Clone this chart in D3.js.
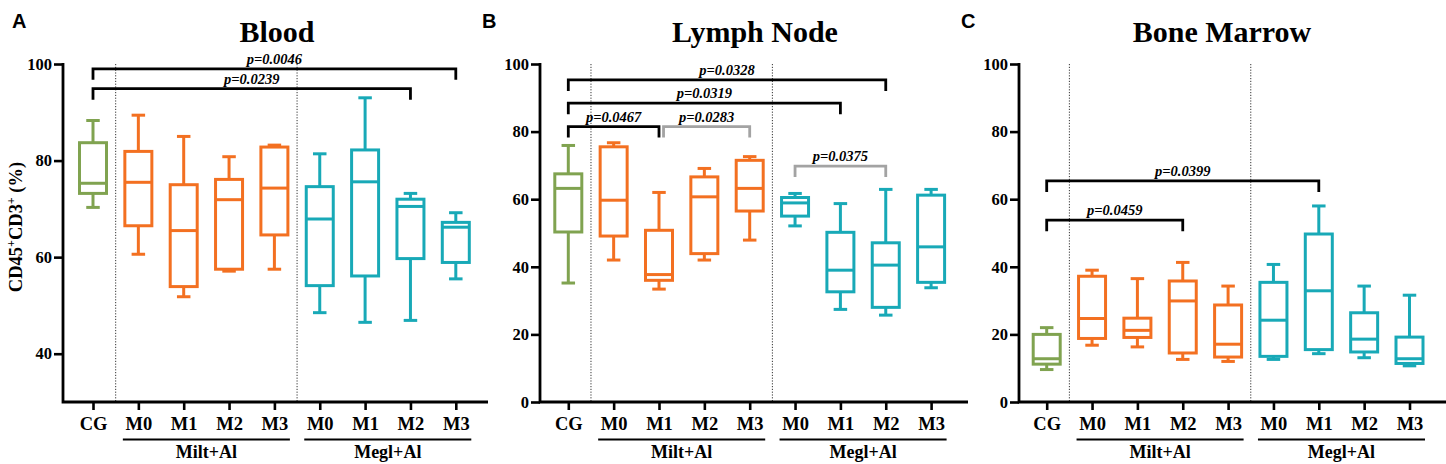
<!DOCTYPE html>
<html>
<head>
<meta charset="utf-8">
<script src="https://cdn.jsdelivr.net/npm/d3@7"></script>
<style>
  body { margin: 0; background: #fff; }
  svg text { font-family: "Liberation Serif", "Times New Roman", serif; font-weight: bold; }
</style>
</head>
<body>
<div class="canvas"></div>
<script>
// categories along every x axis
const categories = ["CG", "M0", "M1", "M2", "M3", "M0", "M1", "M2", "M3"];
const catGroup = ["cg", "milt", "milt", "milt", "milt", "megl", "megl", "megl", "megl"];
const groupLabels = [
  { name: "Milt+Al", from: 1, to: 4 },
  { name: "Megl+Al", from: 5, to: 8 }
];

// box stats per category: [min, q1, median, q3, max]
const bloodStats = [
  [70.3, 73.2, 75.3, 83.7, 88.3],
  [60.6, 66.5, 75.5, 81.9, 89.4],
  [51.8, 53.9, 65.5, 75.0, 85.0],
  [57.1, 57.5, 71.9, 76.1, 80.8],
  [57.5, 64.6, 74.3, 82.8, 83.2],
  [48.5, 54.1, 67.9, 74.6, 81.4],
  [46.5, 56.1, 75.6, 82.2, 93.0],
  [46.9, 59.7, 70.5, 72.0, 73.2],
  [55.5, 58.9, 66.2, 67.2, 69.2]
];
const lymphStats = [
  [35.2, 50.3, 63.2, 67.5, 75.9],
  [42.0, 49.1, 59.7, 75.5, 76.7],
  [33.4, 36.0, 37.7, 50.8, 62.0],
  [42.0, 43.9, 60.7, 66.6, 69.1],
  [47.9, 56.5, 63.2, 71.5, 72.6],
  [52.1, 55.0, 58.9, 60.5, 61.7],
  [27.4, 32.6, 39.0, 50.2, 58.7],
  [25.7, 28.0, 40.5, 47.1, 62.9],
  [33.8, 35.4, 45.9, 61.2, 62.9]
];
const marrowStats = [
  [9.6, 11.2, 12.8, 20.0, 22.0],
  [16.8, 18.8, 24.7, 37.2, 39.0],
  [16.3, 19.1, 21.2, 24.8, 36.5],
  [12.6, 14.5, 29.9, 35.8, 41.3],
  [12.0, 13.3, 17.1, 28.7, 34.3],
  [12.6, 13.5, 24.2, 35.4, 40.7],
  [14.3, 15.5, 32.9, 49.7, 58.0],
  [13.1, 14.8, 18.6, 26.4, 34.3],
  [10.7, 11.4, 12.8, 19.2, 31.6]
];

// significance brackets: [from index, to index, y value, label, grey?]
const bloodBrackets = [
  [0, 8, 99.0, "p=0.0046", false],
  [0, 7, 94.9, "p=0.0239", false]
];
const lymphBrackets = [
  [0, 7, 95.3, "p=0.0328", false],
  [0, 6, 88.4, "p=0.0319", false],
  [0, 2, 81.5, "p=0.0467", false],
  [2.1, 4, 81.5, "p=0.0283", true],
  [5, 7, 69.8, "p=0.0375", true]
];
const marrowBrackets = [
  [0, 6, 65.4, "p=0.0399", false],
  [0, 3, 53.8, "p=0.0459", false]
];

const yTicksBlood = [40, 60, 80, 100];
const yTicksPct = [0, 20, 40, 60, 80, 100];

const colors = { cg: "#80a350", milt: "#f37021", megl: "#18a9b7" };
const grey = "#a3a3a3";

const width = 1446, height = 464;
const yTop = 64, yBottom = 402;
const step = 45.35;

const panels = [
  { letter: "A", title: "Blood", stats: bloodStats, brackets: bloodBrackets,
    yDomain: [30, 100], yTicks: yTicksBlood, ox: 63, x0: 93, xEnd: 488, titleX: 277, letterX: 12, ylabel: true },
  { letter: "B", title: "Lymph Node", stats: lymphStats, brackets: lymphBrackets,
    yDomain: [0, 100], yTicks: yTicksPct, ox: 540, x0: 568.3, xEnd: 968, titleX: 755, letterX: 482, ylabel: false },
  { letter: "C", title: "Bone Marrow", stats: marrowStats, brackets: marrowBrackets,
    yDomain: [0, 100], yTicks: yTicksPct, ox: 1019, x0: 1046.7, xEnd: 1446, titleX: 1222, letterX: 961, ylabel: false }
];

const svg = d3.select(".canvas")
  .append("svg")
  .attr("width", width)
  .attr("height", height);

panels.forEach(p => {
  const g = svg.append("g");

  const x = d3.scaleLinear().domain([0, 8]).range([p.x0, p.x0 + 8 * step]);
  const y = d3.scaleLinear().domain(p.yDomain).range([yBottom, yTop]);

  // panel letter + title
  g.append("text")
    .attr("x", p.letterX).attr("y", 28)
    .style("font-family", "'Liberation Sans', Arial, sans-serif")
    .style("font-size", "20px")
    .text(p.letter);

  g.append("text")
    .attr("x", p.titleX).attr("y", 42)
    .attr("text-anchor", "middle")
    .style("font-size", "30px")
    .text(p.title);

  // dotted separators between groups
  [0.5, 4.5].forEach(v => {
    g.append("line")
      .attr("x1", x(v)).attr("x2", x(v))
      .attr("y1", yTop).attr("y2", yBottom)
      .attr("stroke", "#333")
      .attr("stroke-width", 1)
      .attr("stroke-dasharray", "1.2,1.6");
  });

  // y axis
  const yAxis = d3.axisLeft(y).tickValues(p.yTicks).tickSize(9).tickPadding(2);
  const yAxisGroup = g.append("g")
    .attr("transform", `translate(${p.ox},0)`)
    .call(yAxis);
  yAxisGroup.select(".domain").remove();
  yAxisGroup.selectAll(".tick line").attr("stroke", "#000").attr("stroke-width", 2.6);
  yAxisGroup.selectAll("text")
    .style("font-family", "'Liberation Serif', serif")
    .style("font-weight", "bold")
    .style("font-size", "16.5px")
    .attr("fill", "#000");

  // x axis
  const xAxis = d3.axisBottom(x).tickValues(d3.range(9)).tickSize(8).tickPadding(7)
    .tickFormat(i => categories[i]);
  const xAxisGroup = g.append("g")
    .attr("transform", `translate(0,${yBottom})`)
    .call(xAxis);
  xAxisGroup.select(".domain").remove();
  xAxisGroup.selectAll(".tick line").attr("stroke", "#000").attr("stroke-width", 2.6);
  xAxisGroup.selectAll("text")
    .style("font-family", "'Liberation Serif', serif")
    .style("font-weight", "bold")
    .style("font-size", "18.5px")
    .attr("fill", "#000");

  // axis lines
  g.append("path")
    .attr("d", `M${p.ox},${yTop - 1}V${yBottom}H${p.xEnd}`)
    .attr("fill", "none")
    .attr("stroke", "#000")
    .attr("stroke-width", 2.8);

  // group underlines and labels
  groupLabels.forEach(gl => {
    g.append("line")
      .attr("x1", x(gl.from) - 15.5).attr("x2", x(gl.to) + 15.5)
      .attr("y1", 439.5).attr("y2", 439.5)
      .attr("stroke", "#000").attr("stroke-width", 2);
    g.append("text")
      .attr("x", (x(gl.from) + x(gl.to)) / 2).attr("y", 458)
      .attr("text-anchor", "middle")
      .style("font-size", "18px")
      .text(gl.name);
  });

  if (p.ylabel) {
    g.append("text")
      .attr("transform", `translate(22,${(yTop + yBottom) / 2 - 6}) rotate(-90)`)
      .attr("text-anchor", "middle")
      .style("font-size", "18.5px")
      .html('CD45<tspan dy="-7" font-size="12px">+</tspan><tspan dy="7">CD3</tspan><tspan dy="-7" font-size="12px">+</tspan><tspan dy="7"> (%)</tspan>');
  }

  // boxes
  const boxW = 27, capW = 13.5;
  const boxes = g.selectAll(".box")
    .data(p.stats)
    .enter()
    .append("g")
    .attr("class", "box")
    .attr("stroke", (d, i) => colors[catGroup[i]])
    .attr("stroke-width", 3)
    .attr("fill", "none");

  boxes.append("line")
    .attr("x1", (d, i) => x(i)).attr("x2", (d, i) => x(i))
    .attr("y1", d => y(d[4])).attr("y2", d => y(d[3]));
  boxes.append("line")
    .attr("x1", (d, i) => x(i)).attr("x2", (d, i) => x(i))
    .attr("y1", d => y(d[1])).attr("y2", d => y(d[0]));
  boxes.append("line")
    .attr("x1", (d, i) => x(i) - capW / 2).attr("x2", (d, i) => x(i) + capW / 2)
    .attr("y1", d => y(d[4])).attr("y2", d => y(d[4]));
  boxes.append("line")
    .attr("x1", (d, i) => x(i) - capW / 2).attr("x2", (d, i) => x(i) + capW / 2)
    .attr("y1", d => y(d[0])).attr("y2", d => y(d[0]));
  boxes.append("rect")
    .attr("x", (d, i) => x(i) - boxW / 2)
    .attr("width", boxW)
    .attr("y", d => y(d[3]))
    .attr("height", d => y(d[1]) - y(d[3]))
    .attr("fill", "#fff");
  boxes.append("line")
    .attr("x1", (d, i) => x(i) - boxW / 2).attr("x2", (d, i) => x(i) + boxW / 2)
    .attr("y1", d => y(d[2])).attr("y2", d => y(d[2]));

  // brackets
  p.brackets.forEach(b => {
    const [from, to, v, label, isGrey] = b;
    const yy = y(v);
    const c = isGrey ? grey : "#000";
    g.append("path")
      .attr("d", `M${x(from)},${yy + 11}V${yy}H${x(to)}V${yy + 11}`)
      .attr("fill", "none")
      .attr("stroke", c)
      .attr("stroke-width", 2.8);
    g.append("text")
      .attr("x", (x(from) + x(to)) / 2).attr("y", yy - 5)
      .attr("text-anchor", "middle")
      .style("font-size", "14.5px")
      .style("font-style", "italic")
      .text(label);
  });
});
</script>
</body>
</html>
